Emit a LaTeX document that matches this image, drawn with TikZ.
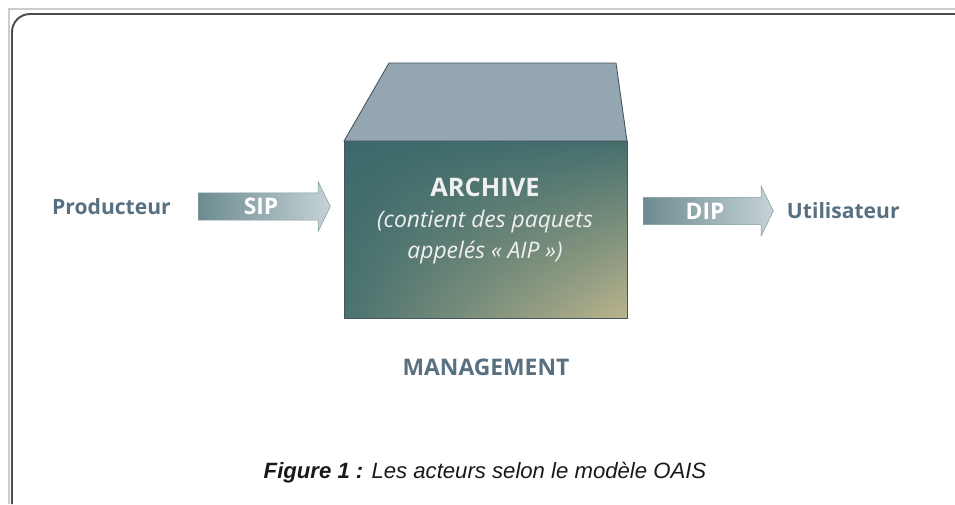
\documentclass[tikz,border=0pt]{standalone}
\usepackage{fontspec}
\setmainfont{Open Sans}
\newfontfamily\legende{Liberation Sans}
\usetikzlibrary{positioning,shapes.arrows,shadings}
\definecolor{ardoise}{HTML}{587080}
\definecolor{toit}{HTML}{94A6B2}
\definecolor{bord}{HTML}{46555C}
\definecolor{sarcelle}{HTML}{3B696B}
\definecolor{sable}{HTML}{BAB48C}
\definecolor{flecheg}{HTML}{6C8B90}
\definecolor{fleched}{HTML}{C6D3D6}
\tikzset{acteur/.style={inner sep=0pt,text=ardoise,font=\bfseries\fontsize{12}{14}\selectfont}}
\tikzset{paquet/.style={single arrow,draw=flecheg!85,line width=0.3pt,
    left color=flecheg,right color=fleched,text=white,
    font=\bfseries\fontsize{13}{15}\selectfont,text height=9.5pt,text depth=0pt,
    inner ysep=2.9pt,inner xsep=0pt,single arrow head extend=6.5pt,
    single arrow tip angle=128,minimum height=2.64cm}}
\tikzset{faceavant/.style={draw=bord,line width=0.5pt,minimum width=5.66cm,minimum height=3.54cm,
    outer sep=0pt,upper left=sarcelle,upper right=sarcelle!92!sable,
    lower left=sarcelle!88!sable,lower right=sable}}
\tikzset{facetoit/.style={draw=bord,line width=0.5pt,fill=toit}}

\begin{document}
\begin{tikzpicture}[x=0.02cm,y=-0.02cm]
    \useasboundingbox (0,0) rectangle (955,504);
    % cadre
    \draw[gray!40,line width=0.6pt] (955,9) -- (9,9) -- (9,504);
    \draw[gray!60!black,line width=1.1pt,rounded corners=0.36cm] (955,14) -- (12,14) -- (12,504);

    % l'archive
    \node[faceavant] (archive) at (485.5,229.5) {};
    \draw[facetoit] (archive.north west) -- (389,63) -- (616,63) -- (archive.north east) -- cycle;
    \node[text=white!94!black,align=center,font=\itshape\fontsize{13}{17.5}\selectfont] (contenu) at (485,221)
        {{\upshape\bfseries\fontsize{14.5}{17.5}\selectfont ARCHIVE}\\(contient des paquets\\appelés «~AIP~»)};

    % paquets et acteurs
    \node[paquet] (sip) at (261,206.5) {SIP};
    \node[paquet,minimum height=2.6cm] (dip) at (705,211) {DIP};
    \node[acteur,left=0.54cm of sip] (producteur) {Producteur};
    \node[acteur,right=0.26cm of dip] (utilisateur) {Utilisateur};
    \node[acteur,font=\bfseries\fontsize{13}{15}\selectfont] (management) at (486,367) {MANAGEMENT};

    \node[text=black!90,font=\legende\itshape\fontsize{12.6}{14}\selectfont] (figure) at (485,473)
        {\textbf{Figure 1 :} Les acteurs selon le modèle OAIS};
\end{tikzpicture}
\end{document}
